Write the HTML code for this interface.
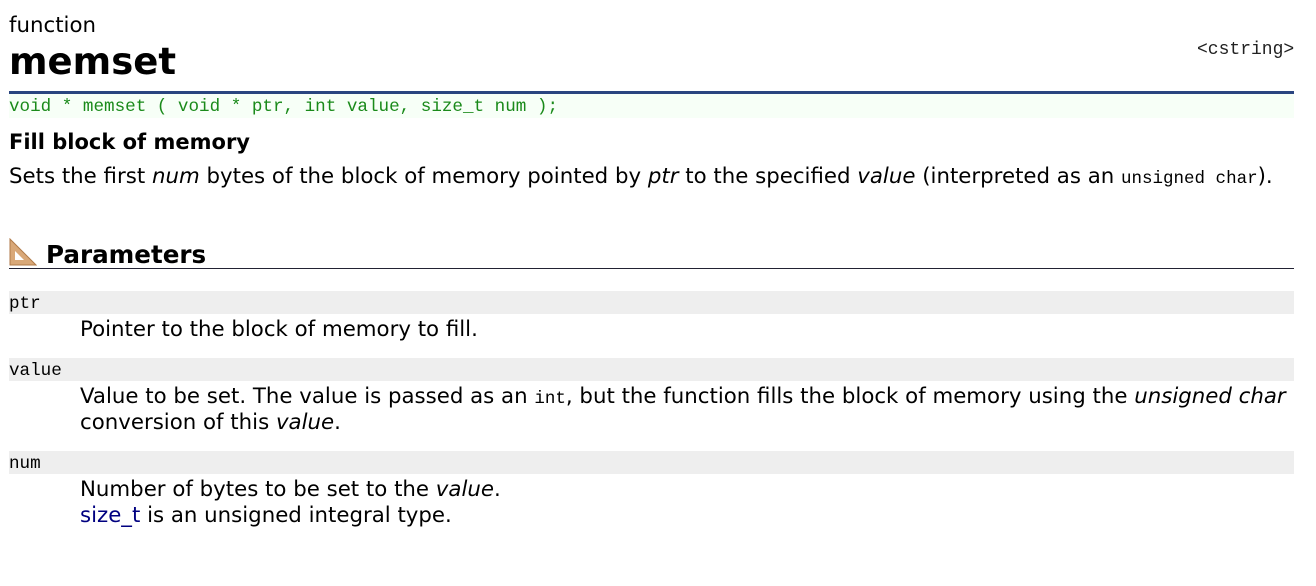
<!DOCTYPE html>
<html><head><meta charset="utf-8"><style>
body{margin:0;width:1316px;height:586px;background:#fff;position:relative;overflow:hidden;font-family:"DejaVu Sans",sans-serif;color:#000}
.a{position:absolute;white-space:nowrap}
.m{font-family:"Liberation Mono",monospace}
.s{font-size:21.3px;line-height:24px}
.bar{position:absolute;left:9px;width:1285px;background:#eee;height:23px}
</style></head><body>
<div class="a s" style="left:9px;top:14px">function</div>
<div class="a" style="left:9px;top:40px;font-size:37px;font-weight:bold;line-height:44px">memset</div>
<div class="a m" style="left:1197px;top:40px;font-size:18px;color:#222">&lt;cstring&gt;</div>
<div style="position:absolute;left:9px;top:91px;width:1285px;height:3px;background:#2a4580"></div>
<div style="position:absolute;left:9px;top:94px;width:1285px;height:24px;background:#f7fff7"></div>
<div class="a m" style="left:9px;top:96px;font-size:17.6px;line-height:22px;color:#1a8a1a">void * memset ( void * ptr, int value, size_t num );</div>
<div class="a s" style="left:9px;top:130px;font-weight:bold;font-size:21px">Fill block of memory</div>
<div class="a s" style="left:9px;top:165px">Sets the first <i>num</i> bytes of the block of memory pointed by <i>ptr</i> to the specified <i>value</i> (interpreted as an <span class="m" style="font-size:17.5px">unsigned char</span>).</div>
<svg style="position:absolute;left:9px;top:238px" width="28" height="28"><polygon points="1,1 1,27 27,27" fill="#d9a878" stroke="#b07a48"/><polygon points="6,13 6,22 15,22" fill="#fff"/></svg>
<div class="a" style="left:46px;top:240px;font-size:24.6px;font-weight:bold;line-height:30px">Parameters</div>
<div style="position:absolute;left:9px;top:268px;width:1285px;height:1px;background:#223"></div>
<div class="bar" style="top:291px"></div>
<div class="a m" style="left:9px;top:293px;font-size:17.6px;line-height:22px">ptr</div>
<div class="a s" style="left:80px;top:318px">Pointer to the block of memory to fill.</div>
<div class="bar" style="top:358px"></div>
<div class="a m" style="left:9px;top:360px;font-size:17.6px;line-height:22px">value</div>
<div class="a s" style="left:80px;top:385px">Value to be set. The value is passed as an <span class="m" style="font-size:17.5px">int</span>, but the function fills the block of memory using the <i>unsigned char</i></div>
<div class="a s" style="left:80px;top:411px">conversion of this <i>value</i>.</div>
<div class="bar" style="top:451px"></div>
<div class="a m" style="left:9px;top:453px;font-size:17.6px;line-height:22px">num</div>
<div class="a s" style="left:80px;top:478px">Number of bytes to be set to the <i>value</i>.</div>
<div class="a s" style="left:80px;top:504px"><span style="color:#000080">size_t</span> is an unsigned integral type.</div>
</body></html>
